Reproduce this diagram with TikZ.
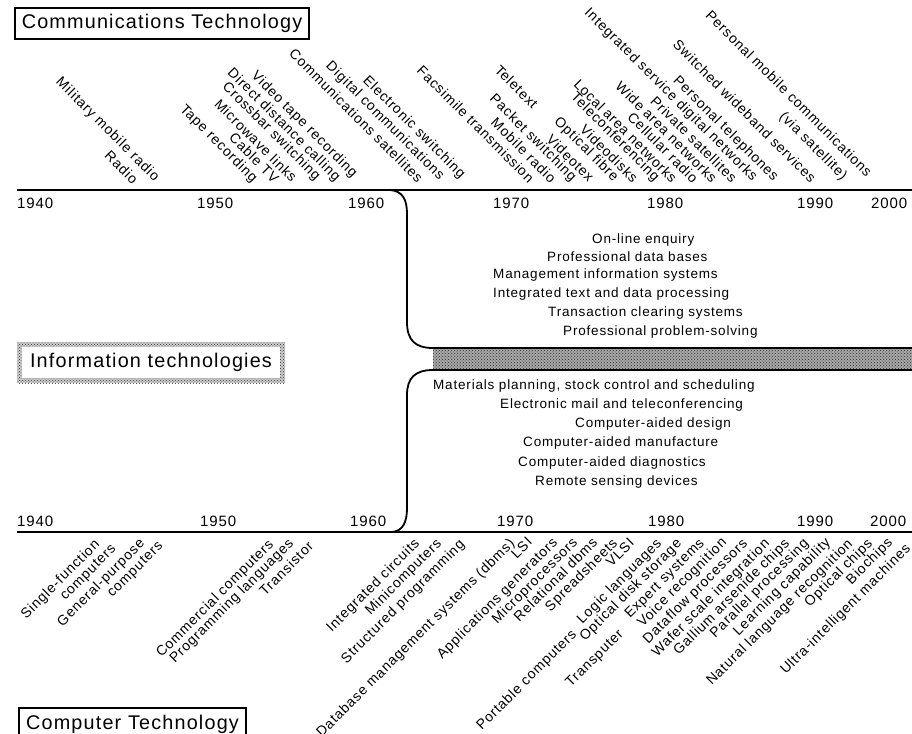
\documentclass[tikz,border=0pt]{standalone}
\usepackage{fontspec}
\setmainfont{Liberation Sans}[LetterSpace=6]
\usetikzlibrary{patterns}

\tikzset{
  etiq/.style={font=\fontsize{14}{16}\selectfont, inner sep=0pt},
  arriba/.style={etiq, rotate=-45, anchor=south east},
  abajo/.style={etiq, rotate=45, anchor=north east},
  medio/.style={font=\fontsize{13.5}{16}\selectfont, inner sep=0pt, anchor=west},
  anio/.style={font=\fontsize{15}{18}\selectfont, inner sep=0pt, anchor=west},
  titulo/.style={draw, line width=1.2pt, font=\fontsize{19.8}{23}\selectfont, inner sep=0pt},
  eje/.style={line width=1.8pt},
  punteado/.style={pattern=crosshatch dots, pattern color=black!80},
}

\begin{document}
\begin{tikzpicture}[x=1pt, y=-1pt]
    \useasboundingbox (0,0) rectangle (912,733);

    % Titulos
    \node[titulo, minimum width=294pt, minimum height=31pt] (comm) at (162,23.5) {Communications Technology};
    \node[titulo, minimum width=227pt, minimum height=32pt] (comp) at (132.5,724) {Computer Technology};

    % Recuadro punteado
    \fill[black!20] (17,342) rectangle (285,383);
    \fill[punteado] (17,342) rectangle (285,383);
    \node[fill=white, minimum width=258pt, minimum height=31pt, inner sep=0pt,
          font=\fontsize{19.8}{23}\selectfont] (info) at (151,362.5) {Information technologies};

    % Ejes y curvas
    \draw[eje] (17,190) -- (912,190);
    \draw[eje] (17,532) -- (912,532);
    \fill[black!35] (433,348) rectangle (912,370);
    \fill[punteado] (433,348) rectangle (912,370);
    \draw[eje] (390,190) .. controls (403,191) and (407,200) .. (407,214)
        -- (407,322) .. controls (407,340) and (415,348) .. (433,348) -- (912,348);
    \draw[eje] (912,370) -- (433,370) .. controls (415,370) and (407,378) .. (407,395)
        -- (407,508) .. controls (407,522) and (403,531) .. (392,532);

    % Anios arriba
    \node[anio] (a1) at (17,203) {1940};
    \node[anio] (a2) at (197,203) {1950};
    \node[anio] (a3) at (348,203) {1960};
    \node[anio] (a4) at (493,203) {1970};
    \node[anio] (a5) at (647,203) {1980};
    \node[anio] (a6) at (797,203) {1990};
    \node[anio] (a7) at (871,203) {2000};

    % Anios abajo
    \node[anio] (b1) at (17,521) {1940};
    \node[anio] (b2) at (200,521) {1950};
    \node[anio] (b3) at (350,521) {1960};
    \node[anio] (b4) at (497,521) {1970};
    \node[anio] (b5) at (648,521) {1980};
    \node[anio] (b6) at (797,521) {1990};
    \node[anio] (b7) at (870,521) {2000};

    % Comunicaciones
    \node[arriba] (c1) at (132,185) {Radio};
    \node[arriba] (c2) at (152,184) {Military mobile radio};
    \node[arriba] (c3) at (250,185) {Tape recording};
    \node[arriba] (c4) at (273,184) {Cable TV};
    \node[arriba] (c5) at (291,183) {Microwave links};
    \node[arriba] (c6) at (313,183) {Crossbar switching};
    \node[arriba] (c7) at (333,184) {Direct distance calling};
    \node[arriba] (c8) at (350,180) {Video tape recording};
    \node[arriba] (c9) at (417,184) {Communications satellites};
    \node[arriba] (c10) at (437,183) {Digital communications};
    \node[arriba] (c11) at (458,181) {Electronic switching};
    \node[arriba] (c12) at (528,184) {Facsimile transmission};
    \node[arriba] (c13) at (532,110) {Teletext};
    \node[arriba] (c14) at (550,184) {Mobile radio};
    \node[arriba] (c15) at (569,184) {Packet switching};
    \node[arriba] (c16) at (588,183) {Videotex};
    \node[arriba] (c17) at (611,184) {Optical fibre};
    \node[arriba] (c18) at (632,184) {Videodisks};
    \node[arriba] (c19) at (652,184) {Teleconferencing};
    \node[arriba] (c20) at (671,184) {Local area networks};
    \node[arriba] (c21) at (692,184) {Cellular radio};
    \node[arriba] (c22) at (711,184) {Wide area networks};
    \node[arriba] (c23) at (731,184) {Private satellites};
    \node[arriba] (c24) at (750,184) {Integrated service digital networks};
    \node[arriba] (c25) at (771,184) {Personal telephones};
    \node[arriba] (c26) at (810,184) {Switched wideband services};
    \node[arriba] (c27) at (840,183) {(via satellite)};
    \node[arriba] (c28) at (866,178) {Personal mobile communications};

    % Tecnologias de informacion
    \node[medio] (i1) at (592,240) {On-line enquiry};
    \node[medio] (i2) at (547,257) {Professional data bases};
    \node[medio] (i3) at (493,275) {Management information systems};
    \node[medio] (i4) at (493,294) {Integrated text and data processing};
    \node[medio] (i5) at (548,313) {Transaction clearing systems};
    \node[medio] (i6) at (563,332) {Professional problem-solving};
    \node[medio] (i7) at (433,386) {Materials planning, stock control and scheduling};
    \node[medio] (i8) at (500,405) {Electronic mail and teleconferencing};
    \node[medio] (i9) at (575,424) {Computer-aided design};
    \node[medio] (i10) at (523,443) {Computer-aided manufacture};
    \node[medio] (i11) at (518,463) {Computer-aided diagnostics};
    \node[medio] (i12) at (535,482) {Remote sensing devices};

    % Computadoras
    \node[abajo] (k1) at (93,538) {Single-function};
    \node[abajo] (k2) at (110,543) {computers};
    \node[abajo] (k3) at (138,537) {General-purpose};
    \node[abajo] (k4) at (157,540) {computers};
    \node[abajo] (k5) at (267,538) {Commercial computers};
    \node[abajo] (k6) at (287,537) {Programming languages};
    \node[abajo] (k7) at (307,540) {Transistor};
    \node[abajo] (k8) at (413,537) {Integrated circuits};
    \node[abajo] (k9) at (435,537) {Minicomputers};
    \node[abajo] (k10) at (458,538) {Structured programming};
    \node[abajo] (k11) at (508,537) {Database management systems (dbms)};
    \node[abajo] (k12) at (526,536) {LSI};
    \node[abajo] (k13) at (551,536) {Applications generators};
    \node[abajo] (k14) at (571,536) {Microprocessors};
    \node[abajo] (k15) at (591,536) {Relational dbms};
    \node[abajo] (k16) at (611,537) {Spreadsheets};
    \node[abajo] (k17) at (628,537) {VLSI};
    \node[abajo] (k18) at (570,628) {Portable computers};
    \node[abajo] (k19) at (617,628) {Transputer};
    \node[abajo] (k20) at (655,537) {Logic languages};
    \node[abajo] (k21) at (675,537) {Optical disk storage};
    \node[abajo] (k22) at (698,537) {Expert systems};
    \node[abajo] (k23) at (720,536) {Voice recognition};
    \node[abajo] (k24) at (741,537) {Dataflow processors};
    \node[abajo] (k25) at (763,537) {Wafer scale integration};
    \node[abajo] (k26) at (783,537) {Gallium arsenide chips};
    \node[abajo] (k27) at (802,537) {Parallel processing};
    \node[abajo] (k28) at (824,536) {Learning capability};
    \node[abajo] (k29) at (846,537) {Natural language recognition};
    \node[abajo] (k30) at (866,537) {Optical chips};
    \node[abajo] (k31) at (886,536) {Biochips};
    \node[abajo] (k32) at (904,542) {Ultra-intelligent machines};

\end{tikzpicture}
\end{document}
